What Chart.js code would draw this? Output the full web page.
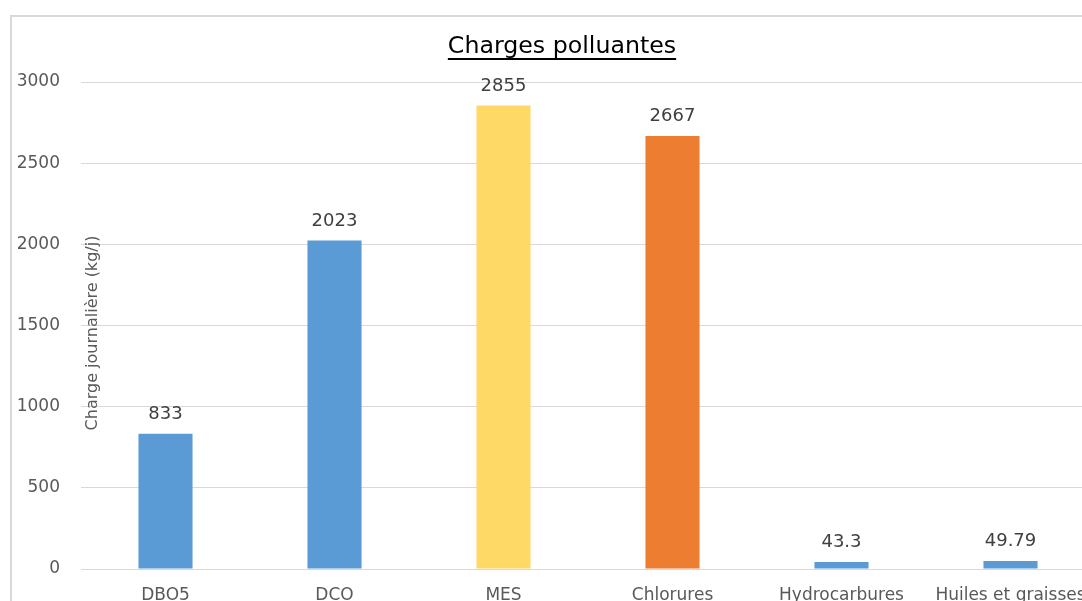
<!DOCTYPE html>
<html>
<head>
<meta charset="utf-8">
<script src="https://cdn.jsdelivr.net/npm/chart.js@4.4.0/dist/chart.umd.min.js"></script>
<style>
  html, body { margin: 0; padding: 0; background: #fff; overflow: hidden; }
  #frame { position: absolute; left: 10px; top: 15px; width: 1200px; height: 700px;
           border-left: 2px solid #d9d9d9; border-top: 2px solid #d9d9d9; }
  #chart { position: absolute; left: 0; top: 0; }
</style>
</head>
<body>
<div id="frame"></div>
<canvas id="chart" width="1100" height="604"></canvas>
<script>
const categories = ["DBO5", "DCO", "MES", "Chlorures", "Hydrocarbures", "Huiles et graisses"];
const charges = [833, 2023, 2855, 2667, 43.3, 49.79];
const yTicks = [0, 500, 1000, 1500, 2000, 2500, 3000];
const barColors = ["#5b9bd5", "#5b9bd5", "#ffd966", "#ed7d31", "#5b9bd5", "#5b9bd5"];
const chartTitle = "Charges polluantes";
const yTitle = "Charge journalière (kg/j)";

const FONT = "'DejaVu Sans', sans-serif";

// underlined title, centred where the original Excel chart had it
const underlinedTitle = {
    id: "underlinedTitle",
    afterDraw(chart) {
        const ctx = chart.ctx;
        const cx = 562, cy = 47;
        ctx.save();
        ctx.font = "23.7px " + FONT;
        ctx.fillStyle = "#000";
        ctx.textAlign = "center";
        ctx.textBaseline = "middle";
        ctx.fillText(chartTitle, cx, cy);
        const w = ctx.measureText(chartTitle).width;
        ctx.strokeStyle = "#000";
        ctx.lineWidth = 2;
        ctx.beginPath();
        ctx.moveTo(cx - w / 2, cy + 12);
        ctx.lineTo(cx + w / 2, cy + 12);
        ctx.stroke();
        ctx.restore();
    }
};

// value above each bar
const valueLabels = {
    id: "valueLabels",
    afterDatasetsDraw(chart) {
        const ctx = chart.ctx;
        const meta = chart.getDatasetMeta(0);
        ctx.save();
        ctx.font = "18px " + FONT;
        ctx.fillStyle = "#404040";
        ctx.textAlign = "center";
        ctx.textBaseline = "alphabetic";
        meta.data.forEach((bar, i) => {
            ctx.fillText(String(charges[i]), bar.x, bar.y - 15);
        });
        ctx.restore();
    }
};

// y axis title, sits inside the plot like in the original
const axisTitle = {
    id: "axisTitle",
    afterDraw(chart) {
        const ctx = chart.ctx;
        const area = chart.chartArea;
        ctx.save();
        ctx.translate(area.left + 12, 333);
        ctx.rotate(-Math.PI / 2);
        ctx.font = "16px " + FONT;
        ctx.fillStyle = "#595959";
        ctx.textAlign = "center";
        ctx.textBaseline = "middle";
        ctx.fillText(yTitle, 0, 0);
        ctx.restore();
    }
};

const ctx = document.getElementById("chart");
new Chart(ctx, {
    type: "bar",
    data: {
        labels: categories,
        datasets: [{
            data: charges,
            backgroundColor: barColors,
            borderWidth: 0,
            barPercentage: 1,
            categoryPercentage: 0.32
        }]
    },
    options: {
        responsive: false,
        animation: false,
        layout: { padding: { left: 17, right: 5, top: 82, bottom: 0 } },
        plugins: {
            legend: { display: false },
            tooltip: { enabled: false },
            title: { display: false }
        },
        scales: {
            x: {
                grid: { display: false, drawTicks: false },
                border: { display: false },
                afterFit: scale => {
                    scale.height = 35;
                    scale.paddingLeft = 0;
                    scale.paddingRight = 0;
                },
                ticks: {
                    color: "#595959",
                    font: { family: FONT, size: 17 },
                    padding: 16,
                    maxRotation: 0,
                    autoSkip: false
                }
            },
            y: {
                min: 0,
                max: 3000,
                afterBuildTicks: scale => {
                    scale.ticks = yTicks.map(v => ({ value: v }));
                },
                afterFit: scale => {
                    scale.width = 64;
                    scale.paddingTop = 0;
                    scale.paddingBottom = 0;
                },
                grid: { color: "#d9d9d9", lineWidth: 1, drawTicks: false },
                border: { display: false },
                ticks: {
                    color: "#595959",
                    font: { family: FONT, size: 17 },
                    padding: 21,
                    callback: v => String(v)
                }
            }
        }
    },
    plugins: [underlinedTitle, valueLabels, axisTitle]
});
</script>
</body>
</html>
